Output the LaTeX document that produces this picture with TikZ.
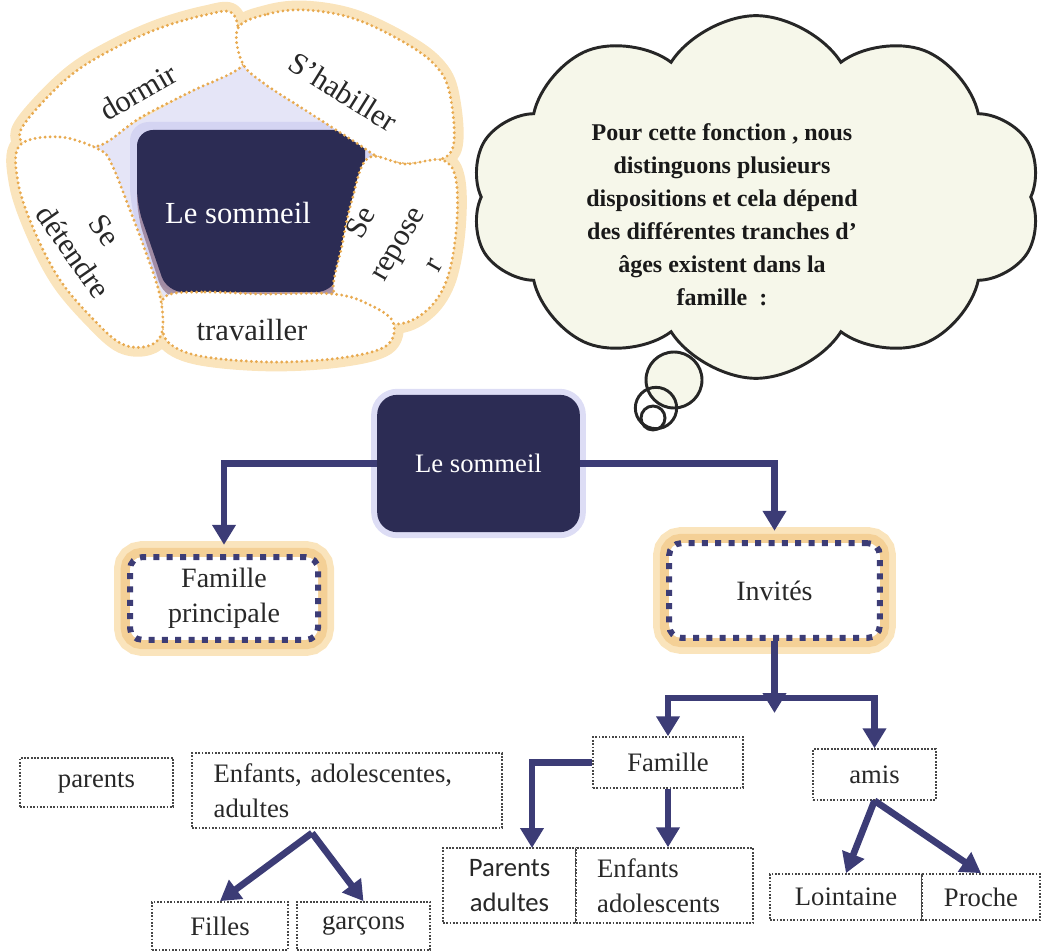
\documentclass[tikz,border=0pt]{standalone}
\usepackage{fontspec}
\setmainfont{Liberation Serif}
\newfontfamily\carlito{Carlito}
\usetikzlibrary{shapes.symbols,arrows.meta}
\definecolor{navy}{RGB}{60,60,118}
\definecolor{darkbox}{RGB}{44,44,84}
\definecolor{lav}{RGB}{212,212,242}
\definecolor{glowc}{RGB}{250,228,188}
\definecolor{glowd}{RGB}{244,208,150}
\definecolor{dotc}{RGB}{232,170,80}
\definecolor{cloudc}{RGB}{246,247,234}
\definecolor{boxc}{RGB}{70,70,70}
\definecolor{txtc}{RGB}{40,40,40}
\definecolor{brownish}{RGB}{120,80,100}
\newcommand\fsz[2]{\fontsize{#1}{#2}\selectfont}
\begin{document}
\begin{tikzpicture}[x=0.75pt,y=-0.75pt,
  arr/.style={draw=navy, line width=5pt, -{Triangle[width=17pt,length=15pt]}},
  dbox/.style={draw=boxc, line width=1.3pt, dash pattern=on 1.3pt off 1.2pt, fill=white, inner sep=0pt, text=txtc, font=\fsz{20pt}{26pt}, align=center},
  gbox/.style={draw=navy, line width=4.5pt, dash pattern=on 4.5pt off 5.5pt, rounded corners=9pt, fill=white,
     preaction={draw=glowc, solid, line width=24pt, rounded corners=9pt},
     preaction={draw=glowd, solid, line width=14pt, rounded corners=9pt},
     inner sep=0pt, text=txtc, font=\fsz{21pt}{26pt}, align=center},
  lobeglow/.style={draw=glowc, line width=14pt, line join=round},
  lobe/.style={fill=white, draw=dotc, line width=2.4pt, dash pattern=on 0pt off 3.8pt, line cap=round},
  lobetxt/.style={text=txtc, font=\fsz{23pt}{29pt}, align=center, inner sep=0pt}
]
\useasboundingbox (0,0) rectangle (1046,952);

% ---------- top-left cluster ----------
% glows
\draw[lobeglow] plot[smooth cycle, tension=0.6] coordinates {(20,132) (40,105) (75,72) (115,48) (160,28) (205,15) (232,13) (240,40) (242,66) (190,92) (140,118) (98,146) (60,140) (28,145)};
\draw[lobeglow] plot[smooth cycle, tension=0.6] coordinates {(238,28) (268,14) (305,10) (352,18) (400,40) (435,65) (450,95) (452,150) (420,163) (385,160) (352,140) (305,110) (262,82) (242,62)};
\draw[lobeglow] plot[smooth cycle, tension=0.6] coordinates {(368,158) (405,164) (442,160) (456,180) (456,232) (446,282) (425,312) (395,324) (362,308) (334,294) (342,245) (352,200)};
\draw[lobeglow] plot[smooth cycle, tension=0.6] coordinates {(166,296) (205,292) (262,294) (334,294) (370,305) (393,322) (386,346) (340,358) (270,362) (200,356) (168,342) (162,320)};
\draw[lobeglow] plot[smooth cycle, tension=0.6] coordinates {(20,145) (60,137) (100,150) (112,165) (128,205) (145,250) (160,296) (162,332) (148,346) (122,344) (94,320) (60,280) (34,230) (18,182)};
\fill[lav!60] (245,62) -- (95,145) -- (165,300) -- (335,295) -- (368,158) -- cycle;
% centre shape (under the lobes)
\fill[lav, rounded corners=14] (130,122) -- (372,122) -- (372,190) -- (340,292) -- (160,292) -- (130,205) -- cycle;
\fill[brownish, opacity=0.55, rounded corners=14] (137,140) -- (365,140) -- (365,200) -- (335,300) -- (165,300) -- (137,215) -- cycle;
\fill[darkbox, rounded corners=12] (137,130) -- (365,130) -- (365,185) -- (333,292) -- (167,292) -- (137,205) -- cycle;
% lobes
\draw[lobe] plot[smooth cycle, tension=0.6] coordinates {(20,132) (40,105) (75,72) (115,48) (160,28) (205,15) (232,13) (240,40) (242,66) (190,92) (140,118) (98,146) (60,140) (28,145)};
\draw[lobe] plot[smooth cycle, tension=0.6] coordinates {(238,28) (268,14) (305,10) (352,18) (400,40) (435,65) (450,95) (452,150) (420,163) (385,160) (352,140) (305,110) (262,82) (242,62)};
\draw[lobe] plot[smooth cycle, tension=0.6] coordinates {(368,158) (405,164) (442,160) (456,180) (456,232) (446,282) (425,312) (395,324) (362,308) (334,294) (342,245) (352,200)};
\draw[lobe] plot[smooth cycle, tension=0.6] coordinates {(166,296) (205,292) (262,294) (334,294) (370,305) (393,322) (386,346) (340,358) (270,362) (200,356) (168,342) (162,320)};
\draw[lobe] plot[smooth cycle, tension=0.6] coordinates {(20,145) (60,137) (100,150) (112,165) (128,205) (145,250) (160,296) (162,332) (148,346) (122,344) (94,320) (60,280) (34,230) (18,182)};
\node[text=white, font=\fsz{23pt}{28pt}, inner sep=0pt] (lesom1) at (238,213) {Le sommeil};
\node[lobetxt, rotate=30] (dormir) at (138,92) {dormir};
\node[lobetxt, rotate=-32] (habiller) at (343,92) {S’habiller};
\node[lobetxt, rotate=-55] (detendre) at (89,241) {Se\\détendre};
\node[lobetxt, rotate=60, font=\fsz{23pt}{31pt}] (reposer) at (396,243) {Se\\repose\\r};
\node[lobetxt] (travailler) at (252,330) {travailler};

% ---------- thought cloud ----------
\node[cloud, cloud puffs=10, cloud puff arc=115, cloud ignores aspect, draw=black!85, line width=2.2pt, fill=cloudc,
      minimum width=428pt, minimum height=272pt] (cloud) at (756,197) {};
\draw[black!85, line width=2.2pt, fill=cloudc] (674,380) circle[radius=21pt];
\draw[black!85, line width=2.2pt] (656,408) circle[radius=15.5pt];
\draw[black!85, line width=2.2pt] (653,418) circle[radius=9pt];
\node[font=\bfseries\fsz{18pt}{24.75pt}, align=center, text=black!90, inner sep=0pt] (cloudtxt) at (722,215)
  {Pour cette fonction , nous\\distinguons plusieurs\\dispositions et cela dépend\\des différentes tranches d’\\âges existent dans la\\famille\ \ :};

% ---------- middle tree ----------
\node[fill=darkbox, rounded corners=15pt, minimum width=152pt, minimum height=103pt, text=white,
      font=\fsz{20pt}{24pt}, preaction={draw=lav!80, line width=9pt, rounded corners=15pt}] (som) at (478.5,463.5) {Le sommeil};
\node[gbox, minimum width=141pt, minimum height=62pt] (famP) at (224,598.5) {Famille\\principale};
\node[gbox, minimum width=158pt, minimum height=71pt] (inv) at (774.5,590.5) {Invités};

\draw[arr, shorten >=7pt] (som.west) -| (famP.north);
\draw[arr, shorten >=7pt] (som.east) -| (inv.north);

% ---------- bottom right ----------
\node[dbox, minimum width=112.5pt, minimum height=38pt] (fam) at (668,762.5) {Famille};
\node[dbox, minimum width=92pt, minimum height=38pt] (amis) at (874.5,774.5) {amis};
\node[dbox, minimum width=100pt, minimum height=56pt, font=\carlito\fsz{20pt}{26pt}] (parAd) at (509.5,885.5) {Parents\\adultes};
\node[dbox, minimum width=133pt, minimum height=56pt, text width=101pt, align=left] (enfAd) at (664.5,885.5) {Enfants\\adolescents};
\node[dbox, minimum width=114pt, minimum height=34.5pt] (loin) at (846,897) {Lointaine};
\node[dbox, minimum width=88.5pt, minimum height=34.5pt] (proche) at (981,897) {Proche};

\coordinate (jn) at (774.5,713);
\coordinate (bar) at (774.5,698);
\draw[arr] (inv.south) -- (jn);
\draw[arr] (bar) -| (fam.north);
\draw[arr] (bar) -| (amis.north);
\coordinate (paTop) at (532,848);
\draw[arr] (fam.west) -| (paTop);
\draw[arr] (fam.south) -- (fam.south |- enfAd.north);
\draw[arr] (amis.south) -- (loin.north);
\draw[arr] (amis.south) -- (proche.north);

% ---------- bottom left ----------
\node[dbox, minimum width=115pt, minimum height=37pt] (parents) at (96.5,782.5) {parents};
\node[dbox, minimum width=232.5pt, minimum height=56pt, text width=200pt, align=left] (enfAdo) at (347,790.5) {Enfants, adolescentes,\\adultes};
\node[dbox, minimum width=102pt, minimum height=36pt] (filles) at (220,926) {Filles};
\node[dbox, minimum width=100pt, minimum height=36pt] (garcons) at (363.5,926) {garçons};
\coordinate (eo) at (312,833);
\draw[arr] (eo) -- (filles.north);
\draw[arr] (eo) -- (garcons.north);
\end{tikzpicture}
\end{document}
